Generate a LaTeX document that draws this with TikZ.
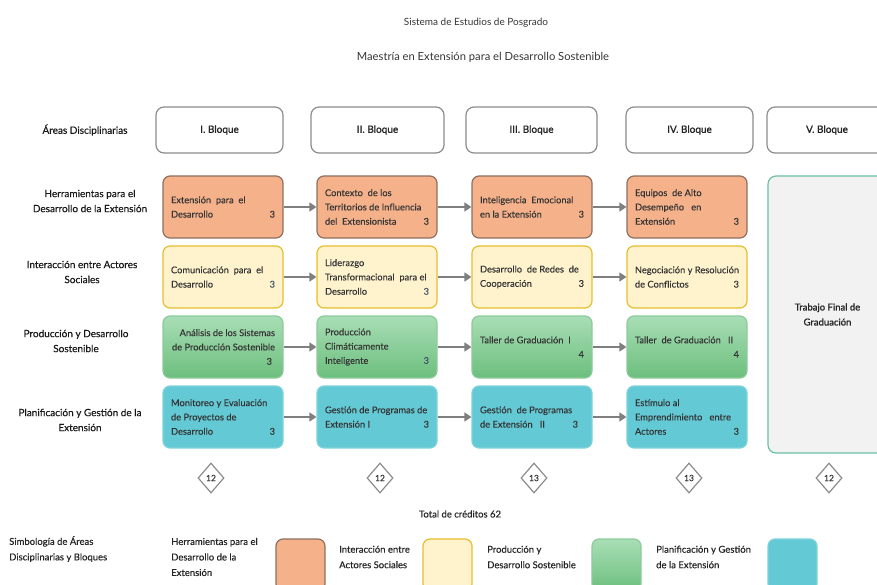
\documentclass[tikz,border=0pt]{standalone}
\usepackage{fontspec}
\setmainfont{Lato}
\newfontfamily\semib{Lato}[FakeBold=1.2]
\newfontfamily\medf{Lato}[FakeBold=0.4]
\newfontfamily\boxf{Lato}[FakeBold=0.2]
\usetikzlibrary{arrows.meta,shapes.geometric}
\definecolor{orfill}{HTML}{F4B18A}
\definecolor{ordraw}{HTML}{8F7060}
\definecolor{yefill}{HTML}{FFF3CD}
\definecolor{yedraw}{HTML}{E7BE2C}
\definecolor{grtop}{HTML}{A9DEB6}
\definecolor{grbot}{HTML}{6CBF7D}
\definecolor{grdraw}{HTML}{8DCB9A}
\definecolor{blfill}{HTML}{62C9D5}
\definecolor{bldraw}{HTML}{7ED3DC}
\definecolor{vfill}{HTML}{F2F2F2}
\definecolor{vdraw}{HTML}{6BBFA3}
\definecolor{hdraw}{HTML}{8C8C8C}
\definecolor{arrc}{HTML}{7F7F7F}
\definecolor{txt}{HTML}{353535}
\definecolor{numblue}{HTML}{44546A}
\newcommand\lastln[2]{\makebox[104pt][l]{#1\hfill#2}}
\begin{document}
\begin{tikzpicture}[x=1pt,y=-1pt,
  every node/.style={inner sep=0pt},
  title/.style={font=\fontsize{10}{12}\selectfont, text=txt},
  hdr/.style={draw=hdraw, fill=white, line width=1.2pt, rounded corners=8pt, minimum height=46pt, font=\semib\fontsize{10}{12}\selectfont, text=black!85},
  rowlab/.style={align=center, font=\medf\fontsize{10}{15}\selectfont, text=black!90},
  course/.style={line width=1.2pt, rounded corners=7pt, minimum width=120pt, minimum height=62pt, align=left, font=\boxf\fontsize{9.3}{14.3}\selectfont, text=txt},
  orbox/.style={course, fill=orfill, draw=ordraw},
  yebox/.style={course, fill=yefill, draw=yedraw},
  grbox/.style={course, top color=grtop, bottom color=grbot, draw=grdraw},
  blbox/.style={course, fill=blfill, draw=bldraw},
  vbox/.style={draw=vdraw, fill=vfill, line width=1.2pt, rounded corners=8pt, align=center, font=\semib\fontsize{9.5}{15}\selectfont, text=black!85},
  cred/.style={diamond, draw=hdraw, fill=white, line width=1.2pt, aspect=0.87, minimum width=26pt, minimum height=30pt, font=\medf\fontsize{8.5}{10}\selectfont, text=txt},
  link/.style={draw=arrc, line width=1.6pt, -{Triangle[length=7pt,width=9pt]}},
  legtext/.style={anchor=west, align=left, font=\medf\fontsize{9.5}{15.5}\selectfont, text=black!85},
  legbox/.style={line width=1.2pt, rounded corners=7pt, minimum width=49pt, minimum height=52pt}
]
\useasboundingbox (0,0) rectangle (877,585);

% titles
\node[title] (t1) at (476,23) {Sistema de Estudios de Posgrado};
\node[title, font=\fontsize{11.2}{13}\selectfont] (t2) at (483,57) {Maestría en Extensión para el Desarrollo Sostenible};

% header row
\node[rowlab] (areas) at (85,130) {Áreas Disciplinarias};
\node[hdr, minimum width=127pt] (h1) at (219.5,130) {I. Bloque};
\node[hdr, minimum width=133pt] (h2) at (377.5,130) {II. Bloque};
\node[hdr, minimum width=131pt] (h3) at (531.5,130) {III. Bloque};
\node[hdr, minimum width=127pt] (h4) at (689.5,130) {IV. Bloque};
\node[hdr, minimum width=120pt] (h5) at (827,130) {V. Bloque};

% row labels
\node[rowlab] (l1) at (90,201) {Herramientas para el\\Desarrollo de la Extensión};
\node[rowlab] (l2) at (82,272) {Interacción entre Actores\\Sociales};
\node[rowlab] (l3) at (76,341) {Producción y Desarrollo\\Sostenible};
\node[rowlab] (l4) at (80,420) {Planificación y Gestión de la\\Extensión};

% row 1
\node[orbox] (a1) at (223,207) {Extensión\ \ para\ \ el\\\lastln{Desarrollo}{3}};
\node[orbox] (a2) at (377,207) {Contexto\ \ de los\\Territorios de Influencia\\\lastln{del\ \ Extensionista}{3}};
\node[orbox] (a3) at (532,207) {Inteligencia\ \ Emocional\\\lastln{en la Extensión}{3}};
\node[orbox] (a4) at (687,207) {Equipos\ \ de Alto\\Desempeño\ \ \ en\\\lastln{Extensión}{3}};

% row 2
\node[yebox] (b1) at (223,277) {Comunicación\ \ para\ \ el\\\lastln{Desarrollo}{\color{numblue}3}};
\node[yebox] (b2) at (377,277) {Liderazgo\\Transformacional\ \ para el\\\lastln{Desarrollo}{\color{numblue}3}};
\node[yebox] (b3) at (532,277) {Desarrollo\ \ de Redes\ \ de\\\lastln{Cooperación}{3}};
\node[yebox] (b4) at (687,277) {Negociación y Resolución\\\lastln{de Conflictos}{3}};

% row 3
\node[grbox, align=right] (c1) at (223,347) {Análisis de los Sistemas\\de Producción Sostenible\\\makebox[104pt][r]{3\hspace*{3pt}}};
\node[grbox] (c2) at (377,347) {Producción\\Climáticamente\\\lastln{Inteligente}{\color{numblue}3}};
\node[grbox] (c3) at (532,347) {Taller de Graduación\ \ I\\\lastln{}{4}};
\node[grbox] (c4) at (687,347) {Taller\ \ de Graduación\ \ \ II\\\lastln{}{4}};

% row 4
\node[blbox] (d1) at (223,417) {Monitoreo y Evaluación\\de Proyectos de\\\lastln{Desarrollo}{3}};
\node[blbox] (d2) at (377,417) {Gestión de Programas de\\\lastln{Extensión I}{3}};
\node[blbox] (d3) at (532,417) {Gestión\ \ de Programas\\\lastln{de Extensión\ \ \ II}{3\hspace*{6pt}}};
\node[blbox] (d4) at (687,417) {Estímulo al\\Emprendimiento\ \ \ entre\\\lastln{Actores}{3}};

% final block
\node[vbox, minimum width=119pt, minimum height=277pt] (tfg) at (827.5,314.5) {Trabajo Final de\\Graduación};

% arrows
\foreach \r in {a,b,c,d}{
  \draw[link] (\r1.east) -- (\r2.west);
  \draw[link] (\r2.east) -- (\r3.west);
  \draw[link] (\r3.east) -- (\r4.west);
}

% credits
\node[cred] (k1) at (211,478) {12};
\node[cred] (k2) at (380,478) {12};
\node[cred] (k3) at (534,478) {13};
\node[cred] (k4) at (689,478) {13};
\node[cred] (k5) at (829,478) {12};
\node[font=\medf\fontsize{9.5}{12}\selectfont, text=black!85] (total) at (460,514) {Total de créditos 62};

% legend
\node[legtext] (s0) at (9,549) {Simbología de Áreas\\Disciplinarias y Bloques};
\node[legtext] (s1) at (171,557) {Herramientas para el\\Desarrollo de la\\Extensión};
\node[legbox, fill=orfill, draw=ordraw] (g1) at (300.5,565) {};
\node[legtext] (s2) at (339,557) {Interacción entre\\Actores Sociales};
\node[legbox, fill=yefill, draw=yedraw] (g2) at (447.5,565) {};
\node[legtext] (s3) at (487,557) {Producción y\\Desarrollo Sostenible};
\node[legbox, top color=grtop, bottom color=grbot, draw=grdraw] (g3) at (616.5,565) {};
\node[legtext] (s4) at (656,557) {Planificación y Gestión\\de la Extensión};
\node[legbox, fill=blfill, draw=bldraw] (g4) at (792.5,565) {};
\end{tikzpicture}
\end{document}
